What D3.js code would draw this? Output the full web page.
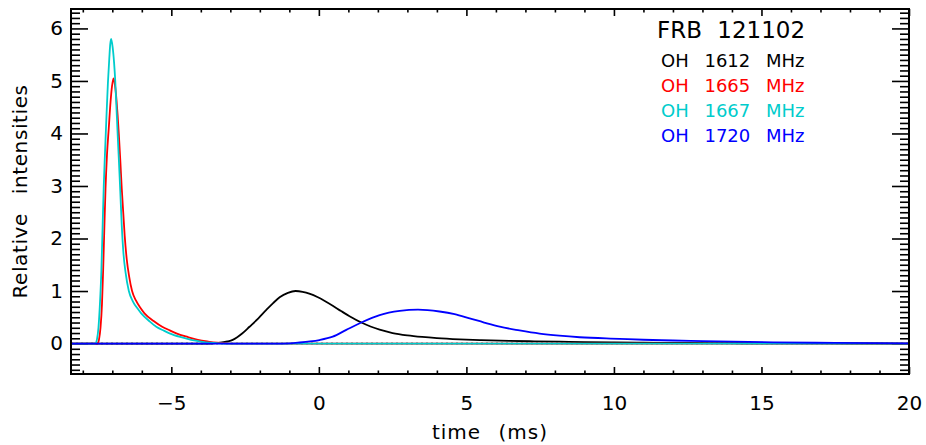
<!DOCTYPE html>
<html>
<head>
<meta charset="utf-8">
<script src="https://cdn.jsdelivr.net/npm/d3@7"></script>
<style>
  html, body { margin: 0; padding: 0; background: #fff; }
  svg { display: block; }
  text { font-family: "DejaVu Sans", sans-serif; }
</style>
</head>
<body>
<svg id="chart" width="926" height="445"></svg>
<script>
// ---- data ----
const seriesNames = ["OH 1612 MHz", "OH 1665 MHz", "OH 1667 MHz", "OH 1720 MHz"];
const seriesColors = ["#000000", "#ff0000", "#00cccc", "#0000ff"];
const title = "FRB 121102";

// [time (ms), relative intensity]
const oh1612 = [[-8.4,0],[-3.7,0],[-3.4,0.012],[-3.1,0.04],[-2.92,0.07],[-2.6,0.19],[-2.35,0.32],
  [-2.05,0.48],[-1.78,0.64],[-1.55,0.77],[-1.33,0.88],[-1.05,0.965],[-0.79,1.0],[-0.55,0.985],
  [-0.3,0.945],[-0.05,0.885],[0.2,0.81],[0.47,0.72],[0.75,0.62],[1.04,0.52],[1.44,0.40],
  [1.75,0.325],[2.06,0.265],[2.5,0.20],[3.0,0.155],[3.5,0.125],[4.0,0.103],[4.77,0.08],
  [5.5,0.065],[6.46,0.05],[7.3,0.042],[8.16,0.035],[9.0,0.028],[10.0,0.021],[11.0,0.015],
  [12.5,0.01],[14.0,0.006],[16.0,0.003],[18.0,0.001],[20.0,0]];
const oh1665 = [[-8.4,0],[-7.5,0],[-7.45,0.08],[-7.4,0.3],[-7.35,0.75],[-7.31,1.4],[-7.27,2.2],
  [-7.23,2.95],[-7.18,3.6],[-7.12,4.1],[-7.06,4.6],[-7.01,4.9],[-6.96,5.05],[-6.91,4.92],
  [-6.86,4.65],[-6.82,4.35],[-6.78,4.0],[-6.73,3.5],[-6.68,2.95],[-6.63,2.5],[-6.58,2.05],
  [-6.51,1.6],[-6.43,1.28],[-6.33,1.0],[-6.2,0.82],[-6.05,0.68],[-5.91,0.575],[-5.6,0.43],
  [-5.31,0.32],[-5.05,0.25],[-4.83,0.195],[-4.45,0.125],[-4.1,0.07],[-3.75,0.037],
  [-3.45,0.016],[-3.15,0.005],[-2.8,0],[20,0]];
const oh1667 = [[-8.4,0],[-7.58,0],[-7.52,0.08],[-7.47,0.3],[-7.42,0.75],[-7.37,1.4],[-7.33,2.2],
  [-7.29,3.0],[-7.25,3.6],[-7.2,4.3],[-7.15,4.95],[-7.1,5.45],[-7.07,5.7],[-7.04,5.8],
  [-6.99,5.65],[-6.94,5.35],[-6.9,5.0],[-6.86,4.5],[-6.82,4.0],[-6.77,3.4],[-6.73,2.9],
  [-6.68,2.25],[-6.62,1.7],[-6.55,1.35],[-6.44,1.0],[-6.3,0.8],[-6.15,0.67],[-6.02,0.575],
  [-5.75,0.43],[-5.51,0.32],[-5.25,0.245],[-5.06,0.195],[-4.7,0.125],[-4.33,0.07],
  [-4.0,0.037],[-3.7,0.016],[-3.4,0.005],[-3.0,0],[20,0]];
const oh1720 = [[-8.4,0],[-1.5,0],[-1.0,0.005],[-0.65,0.02],[-0.3,0.04],[0.02,0.067],[0.47,0.13],
  [0.93,0.26],[1.44,0.40],[2.06,0.54],[2.74,0.62],[3.36,0.645],[4.09,0.61],[4.6,0.56],
  [5.11,0.48],[5.6,0.40],[6.13,0.32],[6.8,0.25],[7.48,0.19],[8.15,0.15],[8.84,0.12],
  [10.19,0.09],[11.0,0.072],[12.0,0.058],[13.0,0.045],[15.4,0.023],[17.5,0.012],[20.0,0.005]];

const xMajorTicks = [-5, 0, 5, 10, 15, 20];
const yMajorTicks = [0, 1, 2, 3, 4, 5, 6];
const xDomain = [-8.4, 20];
const yDomain = [-0.58, 6.37];
const xLabel = "time (ms)";
const yLabel = "Relative intensities";

// ---- layout ----
const L = 71, R = 909, T = 9, B = 374;
const svg = d3.select("#chart");
const x = d3.scaleLinear().domain(xDomain).range([L, R]);
const y = d3.scaleLinear().domain(yDomain).range([B, T]);

const xMinor = d3.range(-8, 20.001, 1).filter(v => !xMajorTicks.includes(v));
const yMinor = d3.range(-5, 64, 1).map(v => v / 10).filter(v => v >= yDomain[0] && v <= yDomain[1] && !yMajorTicks.includes(v));

function styleAxis(g) {
  g.select(".domain").remove();
  g.selectAll(".tick line").attr("stroke", "#000").attr("stroke-width", 1.6);
  g.selectAll("text").attr("fill", "#000").style("font-size", "20px");
}

// bottom
svg.append("g").attr("transform", `translate(0,${B})`)
  .call(d3.axisBottom(x).tickValues(xMinor).tickSize(-3.5).tickFormat(""))
  .call(styleAxis);
svg.append("g").attr("transform", `translate(0,${B})`)
  .call(d3.axisBottom(x).tickValues(xMajorTicks).tickSize(-7).tickPadding(22).tickFormat(d3.format("d")))
  .call(styleAxis);
// top
svg.append("g").attr("transform", `translate(0,${T})`)
  .call(d3.axisTop(x).tickValues(xMinor).tickSize(-3.5).tickFormat(""))
  .call(styleAxis);
svg.append("g").attr("transform", `translate(0,${T})`)
  .call(d3.axisTop(x).tickValues(xMajorTicks).tickSize(-7).tickFormat(""))
  .call(styleAxis);
// left
svg.append("g").attr("transform", `translate(${L},0)`)
  .call(d3.axisLeft(y).tickValues(yMinor).tickSize(-9).tickFormat(""))
  .call(styleAxis);
svg.append("g").attr("transform", `translate(${L},0)`)
  .call(d3.axisLeft(y).tickValues(yMajorTicks).tickSize(-17).tickPadding(8).tickFormat(d3.format("d")))
  .call(styleAxis);
// right
svg.append("g").attr("transform", `translate(${R},0)`)
  .call(d3.axisRight(y).tickValues(yMinor).tickSize(-9).tickFormat(""))
  .call(styleAxis);
svg.append("g").attr("transform", `translate(${R},0)`)
  .call(d3.axisRight(y).tickValues(yMajorTicks).tickSize(-17).tickFormat(""))
  .call(styleAxis);

// zero dotted line
svg.append("line")
  .attr("x1", x(xDomain[0])).attr("x2", x(xDomain[1]))
  .attr("y1", y(0)).attr("y2", y(0))
  .attr("stroke", "#000").attr("stroke-width", 1.5).attr("stroke-dasharray", "2,3");

// curves
const line = d3.line().x(d => x(d[0])).y(d => y(d[1])).curve(d3.curveMonotoneX);
const allSeries = [oh1612, oh1665, oh1667, oh1720];
svg.append("g").selectAll("path").data(allSeries).join("path")
  .attr("d", line)
  .attr("fill", "none")
  .attr("stroke", (d, i) => seriesColors[i])
  .attr("stroke-width", 1.8)
  .attr("stroke-linejoin", "round");

// frame
svg.append("rect").attr("x", L).attr("y", T).attr("width", R - L).attr("height", B - T)
  .attr("fill", "none").attr("stroke", "#000").attr("stroke-width", 2);

// axis titles
svg.append("text").attr("x", (L + R) / 2).attr("y", 439).attr("text-anchor", "middle")
  .style("font-size", "20px").style("word-spacing", "10px").style("letter-spacing", "1px").text(xLabel);
svg.append("text").attr("transform", `translate(26.5,${(T + B) / 2}) rotate(-90)`)
  .attr("text-anchor", "middle").style("font-size", "20px").style("word-spacing", "12px")
  .style("letter-spacing", "0.6px").text(yLabel);

// legend
svg.append("text").attr("x", 657).attr("y", 37.5).style("font-size", "23px")
  .style("word-spacing", "8px").text(title);
svg.append("g").selectAll("text").data(seriesNames).join("text")
  .attr("x", 661).attr("y", (d, i) => 67 + i * 25)
  .attr("fill", (d, i) => seriesColors[i])
  .style("font-size", "18px").style("word-spacing", "10px")
  .text(d => d);
</script>
</body>
</html>
